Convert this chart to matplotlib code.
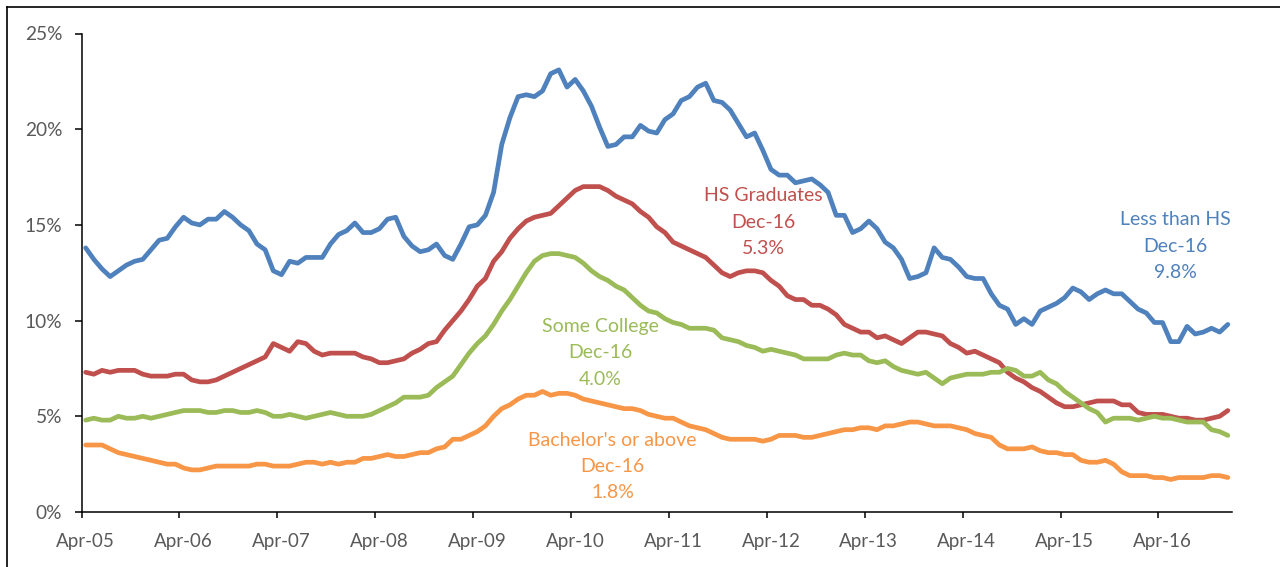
import matplotlib
matplotlib.use("Agg")
import matplotlib.pyplot as plt
from matplotlib.lines import Line2D
import numpy as np

plt.rcParams['font.family'] = ['Lato', 'DejaVu Sans']

# ---- data (monthly, Apr-2005 .. Dec-2016) ----
less_than_hs = [13.8, 13.2, 12.7, 12.3, 12.6, 12.9, 13.1, 13.2, 13.7, 14.2,
                14.3, 14.9, 15.4, 15.1, 15.0, 15.3, 15.3, 15.7, 15.4, 15.0,
                14.7, 14.0, 13.7, 12.6, 12.4, 13.1, 13.0, 13.3, 13.3, 13.3,
                14.0, 14.5, 14.7, 15.1, 14.6, 14.6, 14.8, 15.3, 15.4, 14.4,
                13.9, 13.6, 13.7, 14.0, 13.4, 13.2, 14.0, 14.9, 15.0, 15.5,
                16.7, 19.2, 20.6, 21.7, 21.8, 21.7, 22.0, 22.9, 23.1, 22.2,
                22.6, 22.0, 21.2, 20.1, 19.1, 19.2, 19.6, 19.6, 20.2, 19.9,
                19.8, 20.5, 20.8, 21.5, 21.7, 22.2, 22.4, 21.5, 21.4, 21.0,
                20.3, 19.6, 19.8, 18.9, 17.9, 17.6, 17.6, 17.2, 17.3, 17.4,
                17.1, 16.7, 15.5, 15.5, 14.6, 14.8, 15.2, 14.8, 14.1, 13.8,
                13.2, 12.2, 12.3, 12.5, 13.8, 13.3, 13.2, 12.8, 12.3, 12.2,
                12.2, 11.4, 10.8, 10.6, 9.8, 10.1, 9.8, 10.5, 10.7, 10.9,
                11.2, 11.7, 11.5, 11.1, 11.4, 11.6, 11.4, 11.4, 11.0, 10.6,
                10.4, 9.9, 9.9, 8.9, 8.9, 9.7, 9.3, 9.4, 9.6, 9.4,
                9.8]

hs_graduates = [7.3, 7.2, 7.4, 7.3, 7.4, 7.4, 7.4, 7.2, 7.1, 7.1,
                7.1, 7.2, 7.2, 6.9, 6.8, 6.8, 6.9, 7.1, 7.3, 7.5,
                7.7, 7.9, 8.1, 8.8, 8.6, 8.4, 8.9, 8.8, 8.4, 8.2,
                8.3, 8.3, 8.3, 8.3, 8.1, 8.0, 7.8, 7.8, 7.9, 8.0,
                8.3, 8.5, 8.8, 8.9, 9.5, 10.0, 10.5, 11.1, 11.8, 12.2,
                13.1, 13.6, 14.3, 14.8, 15.2, 15.4, 15.5, 15.6, 16.0, 16.4,
                16.8, 17.0, 17.0, 17.0, 16.8, 16.5, 16.3, 16.1, 15.7, 15.4,
                14.9, 14.6, 14.1, 13.9, 13.7, 13.5, 13.3, 12.9, 12.5, 12.3,
                12.5, 12.6, 12.6, 12.5, 12.1, 11.8, 11.3, 11.1, 11.1, 10.8,
                10.8, 10.6, 10.3, 9.8, 9.6, 9.4, 9.4, 9.1, 9.2, 9.0,
                8.8, 9.1, 9.4, 9.4, 9.3, 9.2, 8.8, 8.6, 8.3, 8.4,
                8.2, 8.0, 7.8, 7.3, 7.0, 6.8, 6.5, 6.3, 6.0, 5.7,
                5.5, 5.5, 5.6, 5.7, 5.8, 5.8, 5.8, 5.6, 5.6, 5.2,
                5.1, 5.1, 5.1, 5.0, 4.9, 4.9, 4.8, 4.8, 4.9, 5.0,
                5.3]

some_college = [4.8, 4.9, 4.8, 4.8, 5.0, 4.9, 4.9, 5.0, 4.9, 5.0,
                5.1, 5.2, 5.3, 5.3, 5.3, 5.2, 5.2, 5.3, 5.3, 5.2,
                5.2, 5.3, 5.2, 5.0, 5.0, 5.1, 5.0, 4.9, 5.0, 5.1,
                5.2, 5.1, 5.0, 5.0, 5.0, 5.1, 5.3, 5.5, 5.7, 6.0,
                6.0, 6.0, 6.1, 6.5, 6.8, 7.1, 7.7, 8.3, 8.8, 9.2,
                9.8, 10.5, 11.1, 11.8, 12.5, 13.1, 13.4, 13.5, 13.5, 13.4,
                13.3, 13.0, 12.6, 12.3, 12.1, 11.8, 11.6, 11.2, 10.8, 10.5,
                10.4, 10.1, 9.9, 9.8, 9.6, 9.6, 9.6, 9.5, 9.1, 9.0,
                8.9, 8.7, 8.6, 8.4, 8.5, 8.4, 8.3, 8.2, 8.0, 8.0,
                8.0, 8.0, 8.2, 8.3, 8.2, 8.2, 7.9, 7.8, 7.9, 7.6,
                7.4, 7.3, 7.2, 7.3, 7.0, 6.7, 7.0, 7.1, 7.2, 7.2,
                7.2, 7.3, 7.3, 7.5, 7.4, 7.1, 7.1, 7.3, 6.9, 6.7,
                6.3, 6.0, 5.7, 5.4, 5.2, 4.7, 4.9, 4.9, 4.9, 4.8,
                4.9, 5.0, 4.9, 4.9, 4.8, 4.7, 4.7, 4.7, 4.3, 4.2,
                4.0]

bachelors = [3.5, 3.5, 3.5, 3.3, 3.1, 3.0, 2.9, 2.8, 2.7, 2.6,
             2.5, 2.5, 2.3, 2.2, 2.2, 2.3, 2.4, 2.4, 2.4, 2.4,
             2.4, 2.5, 2.5, 2.4, 2.4, 2.4, 2.5, 2.6, 2.6, 2.5,
             2.6, 2.5, 2.6, 2.6, 2.8, 2.8, 2.9, 3.0, 2.9, 2.9,
             3.0, 3.1, 3.1, 3.3, 3.4, 3.8, 3.8, 4.0, 4.2, 4.5,
             5.0, 5.4, 5.6, 5.9, 6.1, 6.1, 6.3, 6.1, 6.2, 6.2,
             6.1, 5.9, 5.8, 5.7, 5.6, 5.5, 5.4, 5.4, 5.3, 5.1,
             5.0, 4.9, 4.9, 4.7, 4.5, 4.4, 4.3, 4.1, 3.9, 3.8,
             3.8, 3.8, 3.8, 3.7, 3.8, 4.0, 4.0, 4.0, 3.9, 3.9,
             4.0, 4.1, 4.2, 4.3, 4.3, 4.4, 4.4, 4.3, 4.5, 4.5,
             4.6, 4.7, 4.7, 4.6, 4.5, 4.5, 4.5, 4.4, 4.3, 4.1,
             4.0, 3.9, 3.5, 3.3, 3.3, 3.3, 3.4, 3.2, 3.1, 3.1,
             3.0, 3.0, 2.7, 2.6, 2.6, 2.7, 2.5, 2.1, 1.9, 1.9,
             1.9, 1.8, 1.8, 1.7, 1.8, 1.8, 1.8, 1.8, 1.9, 1.9,
             1.8]

tick_labels = ['Apr-05', 'Apr-06', 'Apr-07', 'Apr-08', 'Apr-09', 'Apr-10',
               'Apr-11', 'Apr-12', 'Apr-13', 'Apr-14', 'Apr-15', 'Apr-16']
y_ticks = [0, 5, 10, 15, 20, 25]

series_names = ['Less than HS', 'HS Graduates', 'Some College', "Bachelor's or above"]
series_values = [less_than_hs, hs_graduates, some_college, bachelors]
series_colors = ['#4F81BD', '#C0504D', '#9BBB59', '#F79646']
end_label = 'Dec-16'

# ---- figure ----
W, H = 1280, 567
fig = plt.figure(figsize=(W / 100, H / 100), dpi=100)
ax = fig.add_axes([81.6 / W, 1 - 512 / H, (1231.9 - 81.6) / W, (512 - 33.5) / H])

n = len(less_than_hs)
x = np.arange(n)
for vals, col in zip(series_values, series_colors):
    ax.plot(x, vals, color=col, lw=3.4, solid_joinstyle='round',
            solid_capstyle='round', zorder=3)

ax.set_xlim(-0.5, n - 0.5)
ax.set_ylim(0, 25)

for s in ['top', 'right']:
    ax.spines[s].set_visible(False)
for s in ['left', 'bottom']:
    ax.spines[s].set_color('black')
    ax.spines[s].set_linewidth(1.1)

ax.set_yticks(y_ticks)
ax.set_yticklabels([f'{t}%' for t in y_ticks])
ax.tick_params(axis='y', which='major', direction='out', length=5, width=1.1,
               color='black', labelsize=13.8, labelcolor='#595959', pad=9)

# tick marks at category boundaries, labels centred on the April point
label_pos = np.arange(len(tick_labels)) * 12
ax.set_xticks(label_pos - 0.5)
ax.set_xticklabels([])
ax.tick_params(axis='x', which='major', direction='out', length=4.3, width=1.1,
               color='black')
ax.set_xticks(label_pos, minor=True)
ax.set_xticklabels(tick_labels, minor=True)
ax.tick_params(axis='x', which='minor', length=0, labelsize=13.5,
               labelcolor='#595959', pad=15)

# end-of-series annotations (anchor: x index, y value of middle line)
anchors = [(133.6, 13.89), (83.1, 15.14), (63.1, 8.32), (64.6, 2.38)]
line_step = 19.0  # points between text lines
for name, vals, col, (ax_x, ax_y) in zip(series_names, series_values,
                                         series_colors, anchors):
    lines = [name, end_label, f'{vals[-1]:.1f}%']
    for k, txt in enumerate(lines):
        ax.annotate(txt, xy=(ax_x, ax_y), xytext=(0, (1 - k) * line_step),
                    textcoords='offset points', ha='center', va='center',
                    color=col, fontsize=14, zorder=4)

# outer chart frame (cropped: only left and top edges visible)
fig.add_artist(Line2D([7 / W, 7 / W], [0, 1 - 7 / H], color='black', lw=1.2,
                      transform=fig.transFigure))
fig.add_artist(Line2D([7 / W, 1], [1 - 7 / H, 1 - 7 / H], color='black', lw=1.2,
                      transform=fig.transFigure))

fig.savefig('out.png', dpi=100)
